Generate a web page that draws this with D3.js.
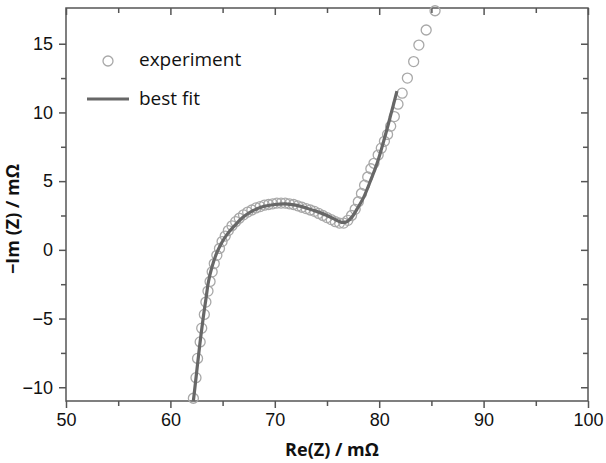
<!DOCTYPE html>
<html>
<head>
<meta charset="utf-8">
<script src="https://cdn.jsdelivr.net/npm/d3@7"></script>
<style>
  body { margin: 0; background: #fff; }
  svg { display: block; font-family: "Open Sans", sans-serif; }
</style>
</head>
<body>
<svg id="chart" width="606" height="463"></svg>
<script>
// measured impedance points: [Re(Z), -Im(Z)] in mOhm
const experiment = [
  [62.2, -10.8], [62.45, -9.3], [62.6, -7.9], [62.85, -6.7], [63.0, -5.7],
  [63.25, -4.7], [63.4, -3.8], [63.6, -3.0], [63.8, -2.3], [64.0, -1.6],
  [64.2, -1.0], [64.45, -0.4], [64.7, 0.1], [64.95, 0.6], [65.25, 1.0],
  [65.55, 1.4], [65.9, 1.75], [66.25, 2.05], [66.6, 2.3], [67.0, 2.55],
  [67.4, 2.75], [67.8, 2.9], [68.2, 3.05], [68.6, 3.15], [69.0, 3.25],
  [69.4, 3.3], [69.8, 3.35], [70.2, 3.4], [70.6, 3.4], [71.0, 3.4],
  [71.4, 3.35], [71.8, 3.3], [72.2, 3.2], [72.6, 3.1], [73.0, 3.0],
  [73.4, 2.9], [73.8, 2.8], [74.2, 2.65], [74.6, 2.5], [75.0, 2.35],
  [75.4, 2.2], [75.8, 2.05], [76.2, 1.95], [76.6, 1.95], [77.0, 2.15],
  [77.35, 2.5], [77.7, 2.95], [78.0, 3.5], [78.3, 4.1], [78.6, 4.7],
  [78.9, 5.3], [79.2, 5.9], [79.5, 6.3], [79.9, 6.9], [80.2, 7.4],
  [80.5, 7.9], [80.8, 8.4], [81.1, 9.0], [81.45, 9.7], [81.8, 10.6],
  [82.2, 11.4], [82.7, 12.5], [83.3, 13.7], [83.8, 14.9], [84.5, 16.0],
  [85.35, 17.4]
];

// equivalent circuit fit
const bestFit = [
  [62.2, -11.0], [62.5, -9.0], [62.8, -7.0], [63.15, -4.9], [63.4, -3.6],
  [63.65, -2.3], [64.0, -1.2], [64.4, -0.3], [64.9, 0.5], [65.5, 1.2],
  [66.2, 1.8], [67.0, 2.4], [67.9, 2.85], [68.9, 3.15], [70.0, 3.3],
  [71.0, 3.35], [72.0, 3.25], [73.0, 3.05], [74.0, 2.8], [75.0, 2.5],
  [75.8, 2.2], [76.4, 2.0], [76.9, 2.05], [77.4, 2.4], [77.9, 3.0],
  [78.5, 3.8], [79.1, 4.9], [79.8, 6.3], [80.5, 8.1], [81.1, 9.8],
  [81.7, 11.55]
];

const xTicks = [50, 60, 70, 80, 90, 100];
const xMinor = [55, 65, 75, 85, 95];
const yTicks = [-10, -5, 0, 5, 10, 15];
const yMinor = [-7.5, -2.5, 2.5, 7.5, 12.5];

const svg = d3.select("#chart");
const margin = { top: 8, right: 18, bottom: 62, left: 66 };
const width = +svg.attr("width") - margin.left - margin.right;
const height = +svg.attr("height") - margin.top - margin.bottom;

const g = svg.append("g")
  .attr("transform", `translate(${margin.left},${margin.top})`);

const x = d3.scaleLinear().domain([50, 100]).range([0, width]);
const y = d3.scaleLinear().domain([-11, 17.6]).range([height, 0]);

const axisColor = "#555";

function styleAxis(sel) {
  sel.select(".domain").remove();
  sel.selectAll("line").attr("stroke", axisColor).attr("stroke-width", 1.5);
  sel.selectAll("text").attr("fill", "#111").style("font-size", "18px");
}

// bottom axis
g.append("g")
  .attr("transform", `translate(0,${height})`)
  .call(d3.axisBottom(x).tickValues(xMinor).tickSize(5).tickFormat(""))
  .call(styleAxis);
g.append("g")
  .attr("transform", `translate(0,${height})`)
  .call(d3.axisBottom(x).tickValues(xTicks).tickSize(7).tickPadding(5).tickFormat(d3.format("d")))
  .call(styleAxis);

// left axis
g.append("g")
  .call(d3.axisLeft(y).tickValues(yMinor).tickSize(5).tickFormat(""))
  .call(styleAxis);
g.append("g")
  .call(d3.axisLeft(y).tickValues(yTicks).tickSize(7).tickPadding(6)
    .tickFormat(d => d < 0 ? "\u2212" + Math.abs(d) : d))
  .call(styleAxis);

// top axis, ticks inward
g.append("g")
  .call(d3.axisTop(x).tickValues(xMinor).tickSize(-5).tickFormat(""))
  .call(styleAxis);
g.append("g")
  .call(d3.axisTop(x).tickValues(xTicks).tickSize(-7).tickFormat(""))
  .call(styleAxis);

// right axis, ticks inward
g.append("g")
  .attr("transform", `translate(${width},0)`)
  .call(d3.axisRight(y).tickValues(yMinor).tickSize(-5).tickFormat(""))
  .call(styleAxis);
g.append("g")
  .attr("transform", `translate(${width},0)`)
  .call(d3.axisRight(y).tickValues(yTicks).tickSize(-7).tickFormat(""))
  .call(styleAxis);

// frame
g.append("rect")
  .attr("width", width)
  .attr("height", height)
  .attr("fill", "none")
  .attr("stroke", axisColor)
  .attr("stroke-width", 1.5);

// experiment circles
g.selectAll(".pt")
  .data(experiment)
  .join("circle")
  .attr("class", "pt")
  .attr("cx", d => x(d[0]))
  .attr("cy", d => y(d[1]))
  .attr("r", 5)
  .attr("fill", "none")
  .attr("stroke", "#a8a8a8")
  .attr("stroke-width", 1.3);

// best fit line
const line = d3.line()
  .x(d => x(d[0]))
  .y(d => y(d[1]))
  .curve(d3.curveCatmullRom);

g.append("path")
  .datum(bestFit)
  .attr("d", line)
  .attr("fill", "none")
  .attr("stroke", "#676767")
  .attr("stroke-width", 3.2);

// legend
const legend = svg.append("g");
legend.append("circle")
  .attr("cx", 108).attr("cy", 61).attr("r", 5)
  .attr("fill", "none").attr("stroke", "#a8a8a8").attr("stroke-width", 1.3);
legend.append("text")
  .attr("x", 139).attr("y", 66)
  .style("font-size", "19px").attr("fill", "#111")
  .text("experiment");
legend.append("line")
  .attr("x1", 87).attr("x2", 129).attr("y1", 99).attr("y2", 99)
  .attr("stroke", "#676767").attr("stroke-width", 3.2);
legend.append("text")
  .attr("x", 139).attr("y", 105)
  .style("font-size", "19px").attr("fill", "#111")
  .text("best fit");

// axis titles
svg.append("text")
  .attr("x", 332)
  .attr("y", 456)
  .attr("text-anchor", "middle")
  .style("font-size", "18px")
  .style("font-weight", "bold")
  .attr("fill", "#111")
  .text("Re(Z) / m\u03A9");

svg.append("text")
  .attr("transform", "translate(19,219) rotate(-90)")
  .attr("text-anchor", "middle")
  .style("font-size", "18px")
  .style("font-weight", "bold")
  .attr("fill", "#111")
  .text("\u2212Im (Z) / m\u03A9");
</script>
</body>
</html>
